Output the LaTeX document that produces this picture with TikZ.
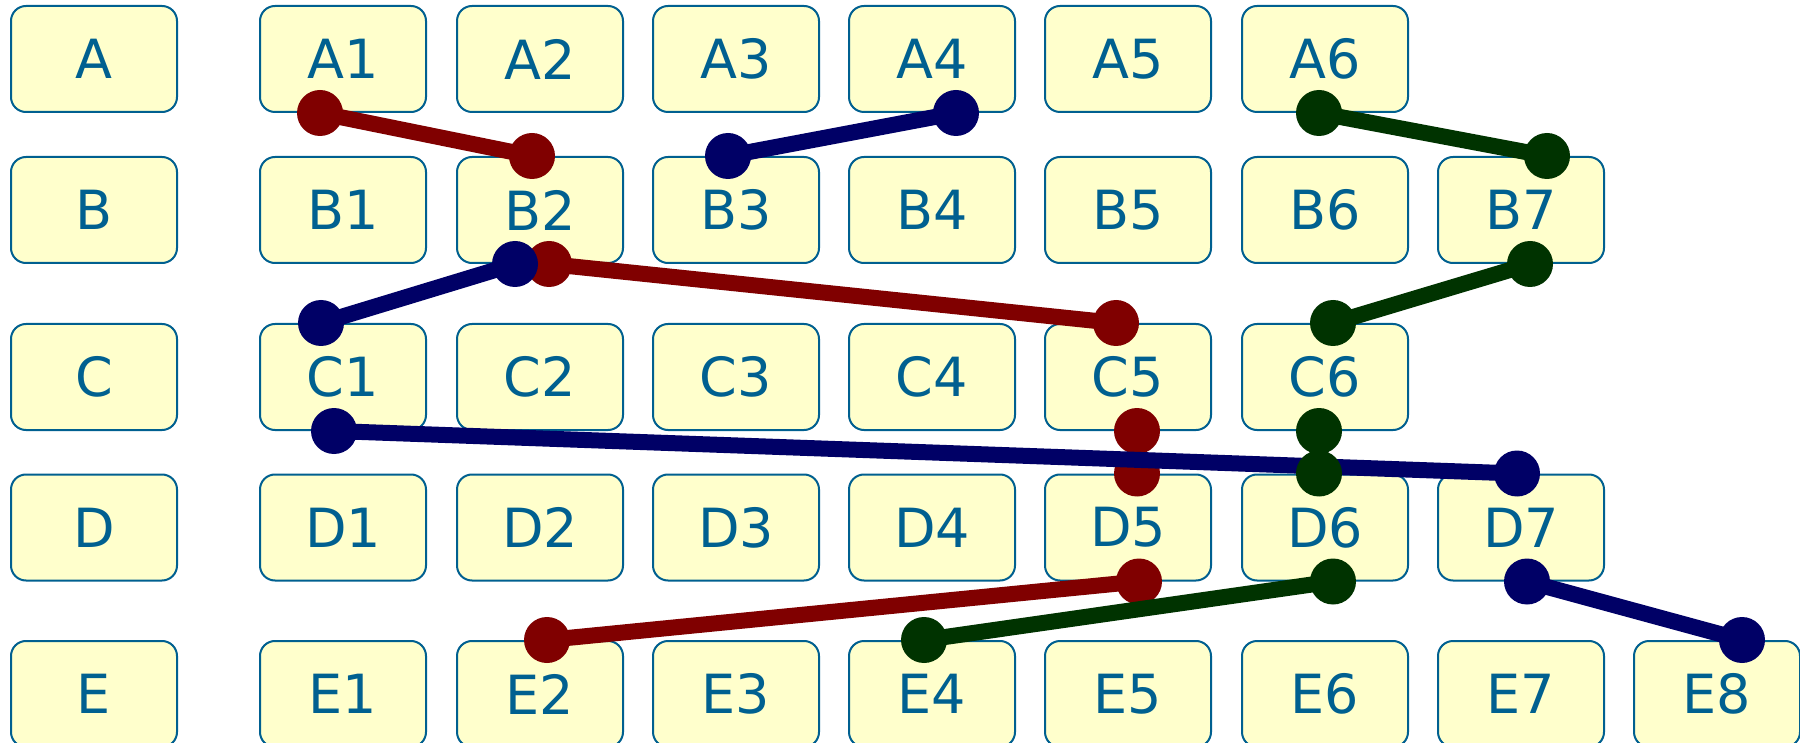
\documentclass[tikz,border=0pt]{standalone}
\usepackage{fontspec}
\setmainfont{DejaVu Sans}
\definecolor{boxblue}{RGB}{0,96,144}
\definecolor{boxfill}{RGB}{255,255,204}
\definecolor{linered}{RGB}{128,0,0}
\definecolor{lineblue}{RGB}{0,0,102}
\definecolor{linegreen}{RGB}{0,51,0}
\newcommand\dotlink[3]{%
  \draw[#1, line width=8pt] (#2) -- (#3);
  \fill[#1] (#2) circle[radius=11.5pt] (#3) circle[radius=11.5pt];}
\begin{document}
\begin{tikzpicture}[x=0.5pt,y=-0.5pt,
  box/.style={draw=boxblue, fill=boxfill, text=boxblue, line width=1pt,
    rounded corners=7.5pt, minimum width=83pt, minimum height=53pt,
    inner sep=0pt, font=\fontsize{27}{32}\selectfont}]
\useasboundingbox (0,0) rectangle (1800,743);
\fill[white] (0,0) rectangle (1800,743);
% rows
\foreach \lbl/\x in {A/94, A1/343, A2/540, A3/736, A4/932, A5/1128, A6/1325}
  \node[box] (\lbl) at (\x,59) {\raisebox{-0.6pt}{\lbl}};
\foreach \lbl/\x in {B/94, B1/343, B2/540, B3/736, B4/932, B5/1128, B6/1325, B7/1521}
  \node[box] (\lbl) at (\x,210) {\raisebox{-0.6pt}{\lbl}};
\foreach \lbl/\x in {C/94, C1/343, C2/540, C3/736, C4/932, C5/1128, C6/1325}
  \node[box] (\lbl) at (\x,377) {\raisebox{-0.6pt}{\lbl}};
\foreach \lbl/\x in {D/94, D1/343, D2/540, D3/736, D4/932, D5/1128, D6/1325, D7/1521}
  \node[box] (\lbl) at (\x,527.5) {\raisebox{-0.6pt}{\lbl}};
\foreach \lbl/\x in {E/94, E1/343, E2/540, E3/736, E4/932, E5/1128, E6/1325, E7/1521, E8/1717}
  \node[box] (\lbl) at (\x,694) {\raisebox{-0.6pt}{\lbl}};
% red connectors
\dotlink{linered}{[xshift=-11.5pt]A1.south}{[xshift=-4pt]B2.north}
\dotlink{linered}{[xshift=4.5pt]B2.south}{[xshift=-6pt]C5.north}
\dotlink{linered}{[xshift=4.5pt]C5.south}{[xshift=4.5pt]D5.north}
\dotlink{linered}{[xshift=5.5pt]D5.south}{[xshift=3.5pt]E2.north}
% blue connectors
\dotlink{lineblue}{[xshift=12pt]A4.south}{[xshift=-4pt]B3.north}
\dotlink{lineblue}{[xshift=-12.5pt]B2.south}{[xshift=-11pt]C1.north}
\dotlink{lineblue}{[xshift=-4.5pt]C1.south}{[xshift=-2pt]D7.north}
\dotlink{lineblue}{[xshift=3pt]D7.south}{[xshift=12.5pt]E8.north}
% green connectors
\dotlink{linegreen}{[xshift=-3pt]A6.south}{[xshift=13pt]B7.north}
\dotlink{linegreen}{[xshift=4.5pt]B7.south}{[xshift=4pt]C6.north}
\dotlink{linegreen}{[xshift=-3pt]C6.south}{[xshift=-3pt]D6.north}
\dotlink{linegreen}{[xshift=4pt]D6.south}{[xshift=-4pt]E4.north}
\end{tikzpicture}
\end{document}
